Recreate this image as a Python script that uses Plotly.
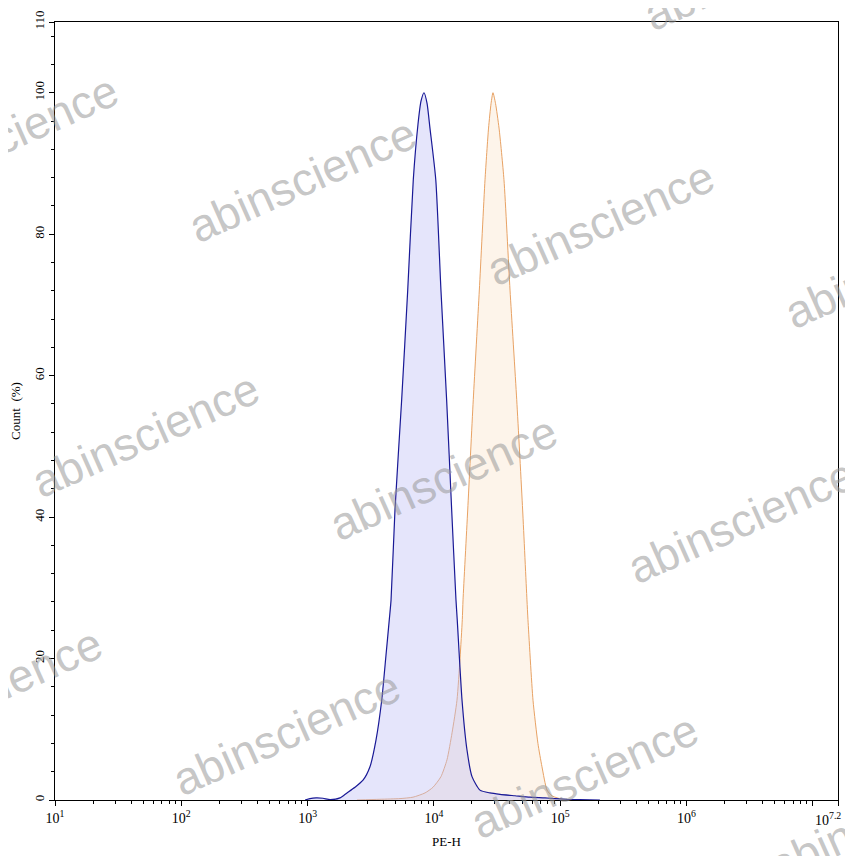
import numpy as np
import plotly.graph_objects as go

# ---- data (PE-H on log10 scale, Count %) ----
blue_log10 = [2.980, 3.019, 3.067, 3.122, 3.178, 3.257, 3.312, 3.375, 3.439, 3.494,
              3.542, 3.587, 3.621, 3.647, 3.661, 3.692, 3.745, 3.793, 3.837, 3.874,
              3.898, 3.922, 3.946, 3.969, 4.015, 4.056, 4.101, 4.141, 4.175, 4.185,
              4.223, 4.262, 4.302, 4.365, 4.444, 4.524, 4.642, 4.761, 4.880, 4.959,
              5.054, 5.157, 5.315]
blue_pct = [0.0, 0.2, 0.3, 0.25, 0.05, 0.3, 1.0, 1.8, 2.8, 4.7,
            8.5, 14.1, 20.5, 25.5, 28.3, 41.0, 56.6, 72.1, 87.7, 95.5,
            98.8, 100.0, 98.5, 95.0, 87.7, 72.1, 56.6, 41.0, 28.3, 25.5,
            14.1, 7.1, 3.3, 1.4, 1.0, 0.8, 0.6, 0.4, 0.3, 0.2,
            0.1, 0.05, 0.0]

orange_log10 = [3.391, 3.573, 3.732, 3.835, 3.930, 3.993, 4.056, 4.104, 4.144, 4.183,
                4.207, 4.225, 4.231, 4.268, 4.312, 4.360, 4.405, 4.433, 4.453, 4.468,
                4.488, 4.516, 4.555, 4.603, 4.656, 4.703, 4.737, 4.745, 4.785, 4.824,
                4.856, 4.896, 4.935, 4.975, 5.038]
orange_pct = [0.0, 0.1, 0.2, 0.4, 1.0, 1.8, 3.3, 5.7, 9.5, 14.1,
              20.0, 25.5, 28.3, 41.0, 56.6, 72.1, 87.7, 95.0, 98.5, 100.0,
              98.5, 95.0, 87.7, 72.1, 56.6, 41.0, 28.3, 25.5, 14.1, 8.0,
              4.7, 1.4, 0.6, 0.3, 0.0]

x_tick_exps = [1, 2, 3, 4, 5, 6, 7, 7.2]
x_tick_labels = ["10<sup>1</sup>", "10<sup>2</sup>", "10<sup>3</sup>", "10<sup>4</sup>",
                 "10<sup>5</sup>", "10<sup>6</sup>", " ", " "]
x_end_label = "10<sup>7.2</sup>"
y_tick_vals = [0, 20, 40, 60, 80, 100, 110]
y_tick_labels = ["0", "20", "40", "60", "80", "100", "110"]

watermark_text = "abinscience"
# watermark centres in pixel space of the 853x856 screenshot
watermark_px = [(302, 180), (600, 223), (757, -32), (898, 266), (145, 435), (443, 478),
                (741, 521), (4, 137), (-12, 690), (286, 733), (584, 776), (882, 819),
                (459, -75), (161, -118)]

# ---- figure (page body has an 8px default margin) ----
BODY = 8
W, H = 853 - BODY, 856 - BODY
PLOT_L, PLOT_R, PLOT_T, PLOT_B = 55, 838, 22, 800   # screenshot pixels
ML = PLOT_L - BODY
MT = PLOT_T - BODY
MR = W - (PLOT_R - BODY)
MB = H - (PLOT_B - BODY)
PW, PH = W - ML - MR, H - MT - MB

serif = "Liberation Serif, Times New Roman, serif"

fig = go.Figure()
fig.add_trace(go.Scatter(
    x=10 ** np.array(orange_log10), y=orange_pct, mode="lines",
    line=dict(color="rgb(232,162,100)", width=1, shape="spline", smoothing=0.6),
    fill="tozeroy", fillcolor="rgba(250,225,200,0.38)", hoverinfo="skip", showlegend=False))
fig.add_trace(go.Scatter(
    x=10 ** np.array(blue_log10), y=blue_pct, mode="lines",
    line=dict(color="rgb(25,25,150)", width=1.2, shape="spline", smoothing=0.6),
    fill="tozeroy", fillcolor="rgba(190,190,245,0.40)", hoverinfo="skip", showlegend=False))

minor_x = [k * 10 ** n for n in range(1, 8) for k in range(2, 10) if k * 10 ** n < 10 ** 7.2]

fig.update_xaxes(
    type="log", range=[1, 7.2], automargin=False, ticklabeloverflow="allow",
    tickmode="array", tickvals=[10 ** e for e in x_tick_exps], ticktext=x_tick_labels,
    ticks="outside", ticklen=5, tickcolor="black", tickwidth=1,
    minor=dict(tickmode="array", tickvals=minor_x, ticks="outside", ticklen=3,
               tickcolor="black", tickwidth=1, showgrid=False),
    showline=True, linecolor="black", linewidth=1, mirror=True,
    showgrid=False, zeroline=False,
    tickfont=dict(family=serif, size=14, color="black"),
    title=dict(text="PE-H", font=dict(family=serif, size=13, color="black"), standoff=12),
)
fig.update_yaxes(
    range=[0, 110], automargin=False, ticklabeloverflow="allow",
    tickmode="array", tickvals=y_tick_vals, ticktext=y_tick_labels, tickangle=-90,
    ticks="outside", ticklen=5, tickcolor="black", tickwidth=1,
    minor=dict(tick0=0, dtick=4, ticks="outside", ticklen=3, tickcolor="black",
               tickwidth=1, showgrid=False),
    showline=True, linecolor="black", linewidth=1, mirror=True,
    showgrid=False, zeroline=False,
    tickfont=dict(family=serif, size=13, color="black"),
    title=dict(text="Count  (%)", font=dict(family=serif, size=13, color="black"), standoff=9),
)

# end-of-axis label
fig.add_annotation(
    x=(843 - PLOT_L) / PW, y=(PLOT_B - 819) / PH, xref="paper", yref="paper",
    text=x_end_label, showarrow=False, xanchor="right", yanchor="middle",
    font=dict(family=serif, size=14, color="black"),
)

for (px, py) in watermark_px:
    fig.add_annotation(
        x=(px - PLOT_L) / PW, y=(PLOT_B - py) / PH, xref="paper", yref="paper",
        text=watermark_text, showarrow=False, textangle=-24,
        xanchor="center", yanchor="middle",
        font=dict(family="Liberation Sans, Arial, sans-serif", size=46,
                  color="rgba(150,150,150,0.55)"),
    )

fig.update_layout(
    width=W, height=H, margin=dict(l=ML, r=MR, t=MT, b=MB),
    paper_bgcolor="white", plot_bgcolor="white",
)

fig.write_html("out.html")
